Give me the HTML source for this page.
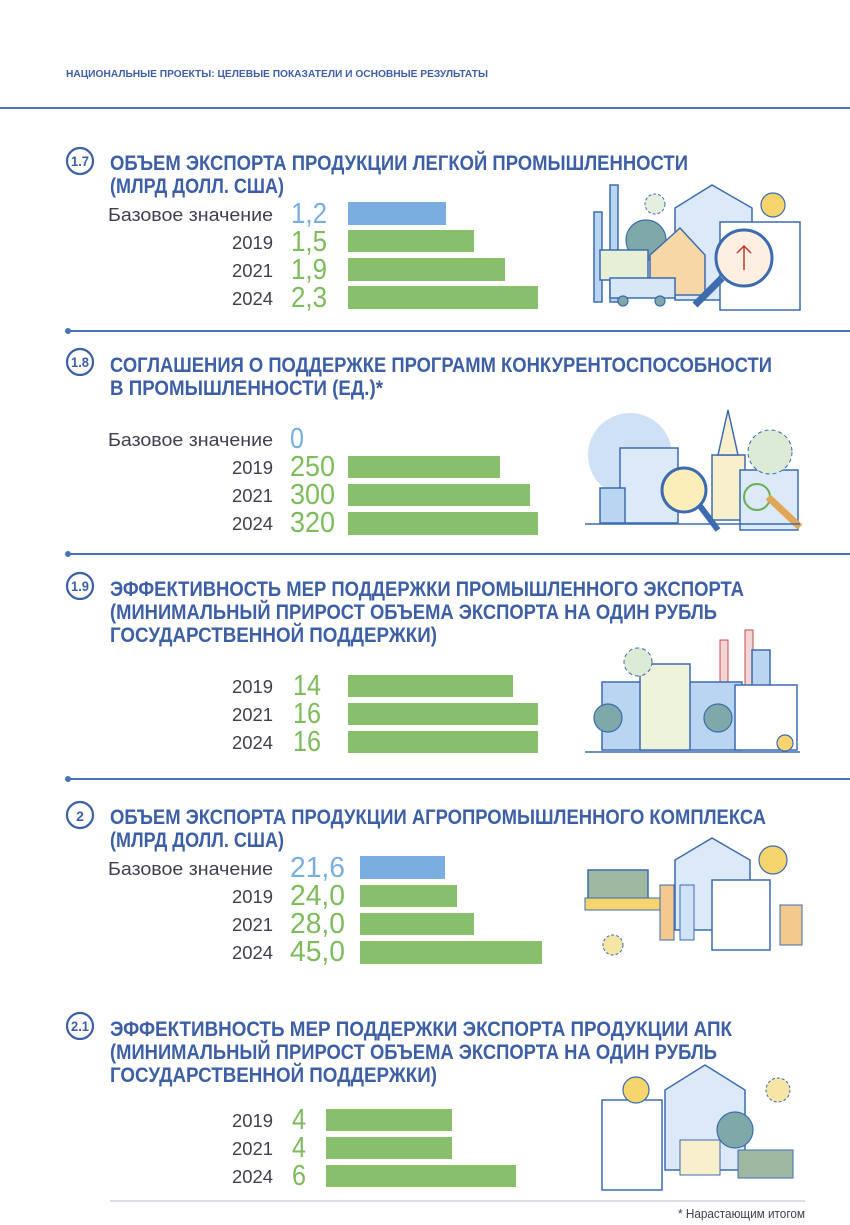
<!DOCTYPE html>
<html><head><meta charset="utf-8"><style>
html,body{margin:0;padding:0;background:#fff}
svg{display:block}
.t{font-family:"Liberation Sans","DejaVu Sans",sans-serif;font-weight:bold;fill:#3d5fa6;font-size:21px}
.l{font-family:"Liberation Sans","DejaVu Sans",sans-serif;fill:#3f3f4f;font-size:18px}
.v{font-family:"Liberation Sans","DejaVu Sans",sans-serif;fill:#7dbb5c;font-size:29px}
.b{fill:#7aaee0}
.g{fill:#88bf6a}
.n{font-family:"Liberation Sans","DejaVu Sans",sans-serif;fill:#3d5fa6;font-size:14px;font-weight:bold}
.il{fill:#dbe9f8;stroke:#3d6bb0;stroke-width:1.5}
.il2{fill:#b9d5f1;stroke:#3d6bb0;stroke-width:1.5}
.tr{fill:#7fa9a8;stroke:#3d6bb0;stroke-width:1.2}
.ye{fill:#f6d56e;stroke:#3d6bb0;stroke-width:1.2}
.wh{fill:#fff;stroke:#3d6bb0;stroke-width:1.5}
</style></head><body>
<svg width="850" height="1225" viewBox="0 0 850 1225" xmlns="http://www.w3.org/2000/svg">
<text x="66" y="77" font-family="Liberation Sans, sans-serif" font-weight="bold" font-size="10.5" fill="#3d5fa6" textLength="422" lengthAdjust="spacingAndGlyphs">НАЦИОНАЛЬНЫЕ ПРОЕКТЫ: ЦЕЛЕВЫЕ ПОКАЗАТЕЛИ И ОСНОВНЫЕ РЕЗУЛЬТАТЫ</text>
<line x1="0" y1="108" x2="850" y2="108" stroke="#4a72b8" stroke-width="2"/>

<!-- 1.7 -->
<circle cx="80" cy="161" r="13" fill="none" stroke="#3d5fa6" stroke-width="2.2"/>
<text x="80" y="166" text-anchor="middle" class="n" textLength="18" lengthAdjust="spacingAndGlyphs">1.7</text>
<text x="110" y="170" class="t" textLength="578" lengthAdjust="spacingAndGlyphs">ОБЪЕМ ЭКСПОРТА ПРОДУКЦИИ ЛЕГКОЙ ПРОМЫШЛЕННОСТИ</text>
<text x="110" y="193" class="t" textLength="174" lengthAdjust="spacingAndGlyphs">(МЛРД ДОЛЛ. США)</text>
<text x="273" y="221" class="l" text-anchor="end" textLength="165" lengthAdjust="spacingAndGlyphs">Базовое значение</text>
<text x="273" y="249" class="l" text-anchor="end" textLength="41" lengthAdjust="spacingAndGlyphs">2019</text>
<text x="273" y="277" class="l" text-anchor="end" textLength="41" lengthAdjust="spacingAndGlyphs">2021</text>
<text x="273" y="305" class="l" text-anchor="end" textLength="41" lengthAdjust="spacingAndGlyphs">2024</text>
<text x="291" y="223" class="v" style="fill:#7aaee0" textLength="36" lengthAdjust="spacingAndGlyphs">1,2</text>
<text x="291" y="251" class="v" textLength="36" lengthAdjust="spacingAndGlyphs">1,5</text>
<text x="291" y="279" class="v" textLength="36" lengthAdjust="spacingAndGlyphs">1,9</text>
<text x="291" y="307" class="v" textLength="36" lengthAdjust="spacingAndGlyphs">2,3</text>
<rect x="348" y="202" width="98" height="23" class="b"/>
<rect x="348" y="230" width="126" height="22" class="g"/>
<rect x="348" y="258" width="157" height="23" class="g"/>
<rect x="348" y="286" width="190" height="23" class="g"/>
<g>
<rect x="594" y="212" width="8" height="90" class="il2"/>
<rect x="610" y="185" width="8" height="117" class="il2"/>
<path d="M675 300 V208 L712 185 L752 208 V300 Z" class="il"/>
<circle cx="646" cy="240" r="20" class="tr"/>
<path d="M650 255 L680 228 L705 255 V295 H650 Z" fill="#f7d7a6" stroke="#3d6bb0" stroke-width="1.5"/>
<rect x="600" y="250" width="48" height="30" fill="#e7f0d6" stroke="#3d6bb0" stroke-width="1.5"/>
<rect x="610" y="278" width="65" height="20" fill="#d8e7f6" stroke="#3d6bb0" stroke-width="1.5"/>
<circle cx="623" cy="301" r="5" class="tr"/><circle cx="660" cy="301" r="5" class="tr"/>
<path d="M720 222 H800 V310 H720 Z" class="wh"/>
<circle cx="744" cy="258" r="28" fill="#fdf0e3" stroke="#3d6bb0" stroke-width="3"/>
<line x1="722" y1="278" x2="695" y2="305" stroke="#3d6bb0" stroke-width="7"/>
<path d="M744 270 V246 M737 253 L744 246 L751 253" stroke="#c0392b" stroke-width="1.5" fill="none"/>
<circle cx="773" cy="205" r="12" class="ye"/>
<circle cx="655" cy="204" r="10" fill="#e4efe0" stroke="#3d6bb0" stroke-dasharray="3 2"/>
</g>
<line x1="68" y1="331" x2="850" y2="331" stroke="#4a72b8" stroke-width="2"/>
<circle cx="68" cy="331" r="3" fill="#4a72b8"/>

<!-- 1.8 -->
<circle cx="80" cy="362" r="13" fill="none" stroke="#3d5fa6" stroke-width="2.2"/>
<text x="80" y="367" text-anchor="middle" class="n" textLength="18" lengthAdjust="spacingAndGlyphs">1.8</text>
<text x="110" y="372" class="t" textLength="662" lengthAdjust="spacingAndGlyphs">СОГЛАШЕНИЯ О ПОДДЕРЖКЕ ПРОГРАММ КОНКУРЕНТОСПОСОБНОСТИ</text>
<text x="110" y="395" class="t" textLength="273" lengthAdjust="spacingAndGlyphs">В ПРОМЫШЛЕННОСТИ (ЕД.)*</text>
<text x="273" y="446" class="l" text-anchor="end" textLength="165" lengthAdjust="spacingAndGlyphs">Базовое значение</text>
<text x="273" y="474" class="l" text-anchor="end" textLength="41" lengthAdjust="spacingAndGlyphs">2019</text>
<text x="273" y="502" class="l" text-anchor="end" textLength="41" lengthAdjust="spacingAndGlyphs">2021</text>
<text x="273" y="530" class="l" text-anchor="end" textLength="41" lengthAdjust="spacingAndGlyphs">2024</text>
<text x="290" y="448" class="v" style="fill:#7aaee0" textLength="14" lengthAdjust="spacingAndGlyphs">0</text>
<text x="290" y="476" class="v" textLength="45" lengthAdjust="spacingAndGlyphs">250</text>
<text x="290" y="504" class="v" textLength="45" lengthAdjust="spacingAndGlyphs">300</text>
<text x="290" y="532" class="v" textLength="45" lengthAdjust="spacingAndGlyphs">320</text>
<rect x="348" y="456" width="152" height="22" class="g"/>
<rect x="348" y="484" width="182" height="22" class="g"/>
<rect x="348" y="512" width="190" height="23" class="g"/>
<g>
<circle cx="630" cy="455" r="42" fill="#cfe2f5"/>
<rect x="620" y="448" width="58" height="75" class="il"/>
<rect x="600" y="488" width="25" height="35" class="il2"/>
<path d="M712 520 V455 H745 V520 Z" fill="#f8efcc" stroke="#3d6bb0" stroke-width="1.5"/>
<path d="M718 455 L728 410 L738 455 Z" fill="#f8efcc" stroke="#3d6bb0" stroke-width="1.5"/>
<rect x="740" y="470" width="58" height="60" class="il"/>
<circle cx="684" cy="490" r="22" fill="#fbeeb9" stroke="#3d6bb0" stroke-width="3"/>
<line x1="700" y1="506" x2="718" y2="530" stroke="#3d6bb0" stroke-width="6"/>
<circle cx="770" cy="452" r="22" fill="#dcebd6" stroke="#3d6bb0" stroke-dasharray="4 3"/>
<circle cx="757" cy="497" r="13" fill="none" stroke="#6aae52" stroke-width="2"/>
<line x1="768" y1="497" x2="800" y2="527" stroke="#e0a856" stroke-width="7"/>
<line x1="585" y1="524" x2="800" y2="524" stroke="#3d6bb0" stroke-width="1.5"/>
</g>
<line x1="68" y1="554" x2="850" y2="554" stroke="#4a72b8" stroke-width="2"/>
<circle cx="68" cy="554" r="3" fill="#4a72b8"/>

<!-- 1.9 -->
<circle cx="80" cy="586" r="13" fill="none" stroke="#3d5fa6" stroke-width="2.2"/>
<text x="80" y="591" text-anchor="middle" class="n" textLength="18" lengthAdjust="spacingAndGlyphs">1.9</text>
<text x="110" y="596" class="t" textLength="634" lengthAdjust="spacingAndGlyphs">ЭФФЕКТИВНОСТЬ МЕР ПОДДЕРЖКИ ПРОМЫШЛЕННОГО ЭКСПОРТА</text>
<text x="110" y="619" class="t" textLength="607" lengthAdjust="spacingAndGlyphs">(МИНИМАЛЬНЫЙ ПРИРОСТ ОБЪЕМА ЭКСПОРТА НА ОДИН РУБЛЬ</text>
<text x="110" y="642" class="t" textLength="327" lengthAdjust="spacingAndGlyphs">ГОСУДАРСТВЕННОЙ ПОДДЕРЖКИ)</text>
<text x="273" y="693" class="l" text-anchor="end" textLength="41" lengthAdjust="spacingAndGlyphs">2019</text>
<text x="273" y="721" class="l" text-anchor="end" textLength="41" lengthAdjust="spacingAndGlyphs">2021</text>
<text x="273" y="749" class="l" text-anchor="end" textLength="41" lengthAdjust="spacingAndGlyphs">2024</text>
<text x="293" y="695" class="v" textLength="28" lengthAdjust="spacingAndGlyphs">14</text>
<text x="293" y="723" class="v" textLength="28" lengthAdjust="spacingAndGlyphs">16</text>
<text x="293" y="751" class="v" textLength="28" lengthAdjust="spacingAndGlyphs">16</text>
<rect x="348" y="675" width="165" height="22" class="g"/>
<rect x="348" y="703" width="190" height="22" class="g"/>
<rect x="348" y="731" width="190" height="22" class="g"/>
<g>
<rect x="720" y="640" width="8" height="70" fill="#f4d5d5" stroke="#c14d4d"/>
<rect x="745" y="630" width="8" height="80" fill="#f4d5d5" stroke="#c14d4d"/>
<rect x="752" y="650" width="18" height="45" class="il2"/>
<rect x="602" y="682" width="140" height="68" class="il2"/>
<rect x="640" y="664" width="50" height="86" fill="#eef3dc" stroke="#3d6bb0" stroke-width="1.5"/>
<circle cx="638" cy="662" r="14" fill="#dcebd6" stroke="#3d6bb0" stroke-dasharray="4 3"/>
<circle cx="608" cy="718" r="14" class="tr"/>
<circle cx="718" cy="718" r="14" class="tr"/>
<rect x="735" y="685" width="62" height="65" class="wh"/>
<circle cx="785" cy="743" r="8" class="ye"/>
<line x1="585" y1="752" x2="800" y2="752" stroke="#3d6bb0" stroke-width="1.5"/>
</g>
<line x1="68" y1="779" x2="850" y2="779" stroke="#4a72b8" stroke-width="2"/>
<circle cx="68" cy="779" r="3" fill="#4a72b8"/>

<!-- 2 -->
<circle cx="80" cy="815" r="13" fill="none" stroke="#3d5fa6" stroke-width="2.2"/>
<text x="80" y="821" text-anchor="middle" class="n" font-size="16">2</text>
<text x="110" y="824" class="t" textLength="656" lengthAdjust="spacingAndGlyphs">ОБЪЕМ ЭКСПОРТА ПРОДУКЦИИ АГРОПРОМЫШЛЕННОГО КОМПЛЕКСА</text>
<text x="110" y="847" class="t" textLength="174" lengthAdjust="spacingAndGlyphs">(МЛРД ДОЛЛ. США)</text>
<text x="273" y="875" class="l" text-anchor="end" textLength="165" lengthAdjust="spacingAndGlyphs">Базовое значение</text>
<text x="273" y="903" class="l" text-anchor="end" textLength="41" lengthAdjust="spacingAndGlyphs">2019</text>
<text x="273" y="931" class="l" text-anchor="end" textLength="41" lengthAdjust="spacingAndGlyphs">2021</text>
<text x="273" y="959" class="l" text-anchor="end" textLength="41" lengthAdjust="spacingAndGlyphs">2024</text>
<text x="290" y="877" class="v" style="fill:#7aaee0" textLength="55" lengthAdjust="spacingAndGlyphs">21,6</text>
<text x="290" y="905" class="v" textLength="55" lengthAdjust="spacingAndGlyphs">24,0</text>
<text x="290" y="933" class="v" textLength="55" lengthAdjust="spacingAndGlyphs">28,0</text>
<text x="290" y="961" class="v" textLength="55" lengthAdjust="spacingAndGlyphs">45,0</text>
<rect x="360" y="856" width="85" height="23" class="b"/>
<rect x="360" y="885" width="97" height="22" class="g"/>
<rect x="360" y="913" width="114" height="22" class="g"/>
<rect x="360" y="941" width="182" height="23" class="g"/>
<g>
<path d="M675 930 V860 L712 838 L750 860 V930 Z" class="il"/>
<rect x="588" y="870" width="60" height="30" fill="#9fb8a0" stroke="#3d6bb0" stroke-width="1.5"/>
<rect x="585" y="898" width="75" height="12" fill="#f6d56e" stroke="#3d6bb0"/>
<rect x="660" y="885" width="14" height="55" fill="#f3c98e" stroke="#3d6bb0"/>
<rect x="680" y="885" width="14" height="55" fill="#cfe2f5" stroke="#3d6bb0"/>
<rect x="712" y="880" width="58" height="70" class="wh"/>
<circle cx="773" cy="860" r="14" class="ye"/>
<rect x="780" y="905" width="22" height="40" fill="#f3c98e" stroke="#3d6bb0"/>
<circle cx="613" cy="945" r="10" fill="#f6e6a6" stroke="#3d6bb0" stroke-dasharray="3 2"/>
</g>

<!-- 2.1 -->
<circle cx="80" cy="1026" r="13" fill="none" stroke="#3d5fa6" stroke-width="2.2"/>
<text x="80" y="1031" text-anchor="middle" class="n" textLength="18" lengthAdjust="spacingAndGlyphs">2.1</text>
<text x="110" y="1036" class="t" textLength="622" lengthAdjust="spacingAndGlyphs">ЭФФЕКТИВНОСТЬ МЕР ПОДДЕРЖКИ ЭКСПОРТА ПРОДУКЦИИ АПК</text>
<text x="110" y="1059" class="t" textLength="607" lengthAdjust="spacingAndGlyphs">(МИНИМАЛЬНЫЙ ПРИРОСТ ОБЪЕМА ЭКСПОРТА НА ОДИН РУБЛЬ</text>
<text x="110" y="1082" class="t" textLength="327" lengthAdjust="spacingAndGlyphs">ГОСУДАРСТВЕННОЙ ПОДДЕРЖКИ)</text>
<text x="273" y="1127" class="l" text-anchor="end" textLength="41" lengthAdjust="spacingAndGlyphs">2019</text>
<text x="273" y="1155" class="l" text-anchor="end" textLength="41" lengthAdjust="spacingAndGlyphs">2021</text>
<text x="273" y="1183" class="l" text-anchor="end" textLength="41" lengthAdjust="spacingAndGlyphs">2024</text>
<text x="292" y="1129" class="v" textLength="14" lengthAdjust="spacingAndGlyphs">4</text>
<text x="292" y="1157" class="v" textLength="14" lengthAdjust="spacingAndGlyphs">4</text>
<text x="292" y="1185" class="v" textLength="14" lengthAdjust="spacingAndGlyphs">6</text>
<rect x="326" y="1109" width="126" height="22" class="g"/>
<rect x="326" y="1137" width="126" height="22" class="g"/>
<rect x="326" y="1165" width="190" height="22" class="g"/>
<g>
<path d="M665 1170 V1090 L705 1065 L745 1090 V1170 Z" class="il"/>
<rect x="602" y="1100" width="60" height="90" class="wh"/>
<circle cx="636" cy="1090" r="13" class="ye"/>
<rect x="680" y="1140" width="40" height="35" fill="#f8efcc" stroke="#3d6bb0"/>
<circle cx="735" cy="1130" r="18" class="tr"/>
<rect x="738" y="1150" width="55" height="28" fill="#9fb8a0" stroke="#3d6bb0"/>
<circle cx="778" cy="1090" r="12" fill="#f6e6a6" stroke="#3d6bb0" stroke-dasharray="3 2"/>
</g>
<line x1="110" y1="1201" x2="805" y2="1201" stroke="#cfd3dc" stroke-width="1.5"/>
<text x="805" y="1218" text-anchor="end" font-family="Liberation Sans, sans-serif" font-size="12.5" fill="#3f3f4f" textLength="127" lengthAdjust="spacingAndGlyphs">* Нарастающим итогом</text>
</svg>
</body></html>
